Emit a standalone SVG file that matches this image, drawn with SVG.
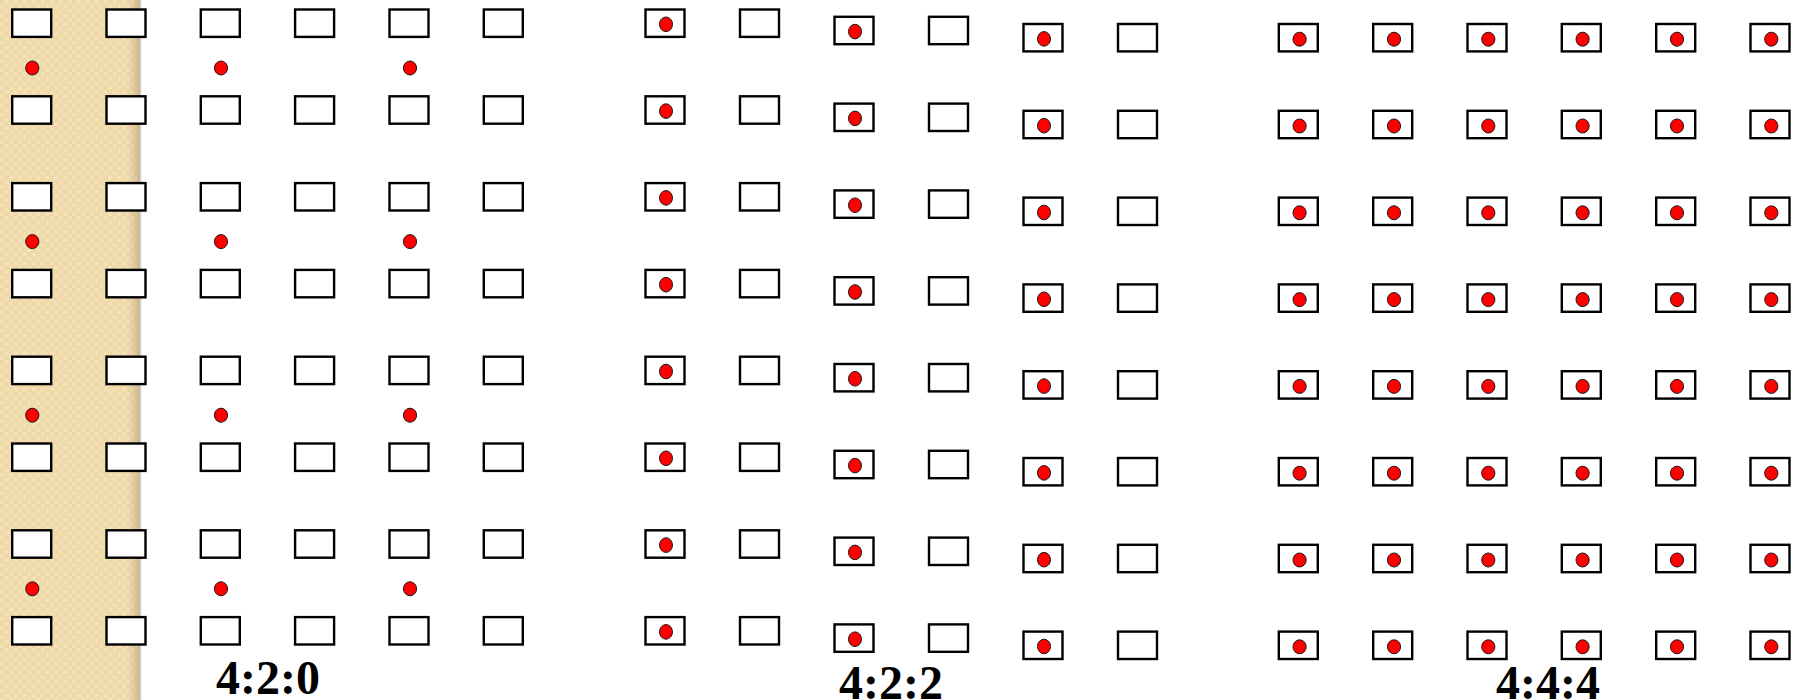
<svg xmlns="http://www.w3.org/2000/svg" xmlns:xlink="http://www.w3.org/1999/xlink" width="1800" height="700" viewBox="0 0 1800 700">
<style>
.box{fill:#ffffff;stroke:#000000;stroke-width:2.4}
.dot{fill:#ff0000;stroke:#1a1a1a;stroke-width:1}
.lbl{font-family:"Liberation Serif","Times New Roman",serif;font-weight:bold;font-size:48px;fill:#000000;text-anchor:middle}
</style>
<defs>
<pattern id="chk" x="0" y="0" width="9" height="9" patternUnits="userSpaceOnUse">
<rect width="9" height="9" fill="#F5E1B3"/>
<rect x="0" y="0" width="4.5" height="4.5" fill="#EBD5A5"/>
<rect x="4.5" y="4.5" width="4.5" height="4.5" fill="#EBD5A5"/>
<rect x="1.2" y="1.2" width="2.1" height="2.1" fill="#F3DFB2"/>
<rect x="5.7" y="5.7" width="2.1" height="2.1" fill="#F3DFB2"/>
</pattern>
<linearGradient id="shade" x1="0" y1="0" x2="1" y2="0">
<stop offset="0" stop-color="#C8B48A" stop-opacity="0"/>
<stop offset="1" stop-color="#B09C72" stop-opacity="0.6"/>
</linearGradient>
<rect id="b" class="box" x="-19.5" y="-13.7" width="39" height="27.4"/>
<ellipse id="d" class="dot" rx="6.6" ry="7"/>
<ellipse id="e" class="dot" rx="6.5" ry="7.3"/>
</defs>
<g id="background">
<rect x="0" y="0" width="1800" height="700" fill="#ffffff"/>
<rect x="0" y="0" width="140" height="700" fill="url(#chk)"/>
<rect x="126" y="0" width="14" height="700" fill="url(#shade)"/>
<rect x="140" y="0" width="1.5" height="700" fill="#DADADA"/>
</g>
<g id="s420">
<g id="s420-col1"><use xlink:href="#b" x="31.7" y="23.2"/><use xlink:href="#b" x="31.7" y="110"/><use xlink:href="#b" x="31.7" y="196.8"/><use xlink:href="#b" x="31.7" y="283.6"/><use xlink:href="#b" x="31.7" y="370.4"/><use xlink:href="#b" x="31.7" y="457.2"/><use xlink:href="#b" x="31.7" y="544"/><use xlink:href="#b" x="31.7" y="630.8"/></g>
<g id="s420-col2"><use xlink:href="#b" x="126" y="23.2"/><use xlink:href="#b" x="126" y="110"/><use xlink:href="#b" x="126" y="196.8"/><use xlink:href="#b" x="126" y="283.6"/><use xlink:href="#b" x="126" y="370.4"/><use xlink:href="#b" x="126" y="457.2"/><use xlink:href="#b" x="126" y="544"/><use xlink:href="#b" x="126" y="630.8"/></g>
<g id="s420-col3"><use xlink:href="#b" x="220.3" y="23.2"/><use xlink:href="#b" x="220.3" y="110"/><use xlink:href="#b" x="220.3" y="196.8"/><use xlink:href="#b" x="220.3" y="283.6"/><use xlink:href="#b" x="220.3" y="370.4"/><use xlink:href="#b" x="220.3" y="457.2"/><use xlink:href="#b" x="220.3" y="544"/><use xlink:href="#b" x="220.3" y="630.8"/></g>
<g id="s420-col4"><use xlink:href="#b" x="314.6" y="23.2"/><use xlink:href="#b" x="314.6" y="110"/><use xlink:href="#b" x="314.6" y="196.8"/><use xlink:href="#b" x="314.6" y="283.6"/><use xlink:href="#b" x="314.6" y="370.4"/><use xlink:href="#b" x="314.6" y="457.2"/><use xlink:href="#b" x="314.6" y="544"/><use xlink:href="#b" x="314.6" y="630.8"/></g>
<g id="s420-col5"><use xlink:href="#b" x="409" y="23.2"/><use xlink:href="#b" x="409" y="110"/><use xlink:href="#b" x="409" y="196.8"/><use xlink:href="#b" x="409" y="283.6"/><use xlink:href="#b" x="409" y="370.4"/><use xlink:href="#b" x="409" y="457.2"/><use xlink:href="#b" x="409" y="544"/><use xlink:href="#b" x="409" y="630.8"/></g>
<g id="s420-col6"><use xlink:href="#b" x="503.3" y="23.2"/><use xlink:href="#b" x="503.3" y="110"/><use xlink:href="#b" x="503.3" y="196.8"/><use xlink:href="#b" x="503.3" y="283.6"/><use xlink:href="#b" x="503.3" y="370.4"/><use xlink:href="#b" x="503.3" y="457.2"/><use xlink:href="#b" x="503.3" y="544"/><use xlink:href="#b" x="503.3" y="630.8"/></g>
<g id="s420-chroma"><use xlink:href="#d" x="32.3" y="68"/><use xlink:href="#d" x="221" y="68"/><use xlink:href="#d" x="410" y="68"/><use xlink:href="#d" x="32.3" y="241.6"/><use xlink:href="#d" x="221" y="241.6"/><use xlink:href="#d" x="410" y="241.6"/><use xlink:href="#d" x="32.3" y="415.2"/><use xlink:href="#d" x="221" y="415.2"/><use xlink:href="#d" x="410" y="415.2"/><use xlink:href="#d" x="32.3" y="588.8"/><use xlink:href="#d" x="221" y="588.8"/><use xlink:href="#d" x="410" y="588.8"/></g>
<text id="lbl420" class="lbl" x="268" y="694">4:2:0</text>
</g>
<g id="s422">
<g id="s422-col1"><use xlink:href="#b" x="665" y="23.2"/><use xlink:href="#b" x="665" y="110"/><use xlink:href="#b" x="665" y="196.8"/><use xlink:href="#b" x="665" y="283.6"/><use xlink:href="#b" x="665" y="370.4"/><use xlink:href="#b" x="665" y="457.2"/><use xlink:href="#b" x="665" y="544"/><use xlink:href="#b" x="665" y="630.8"/>
<use xlink:href="#e" x="666" y="24.3"/><use xlink:href="#e" x="666" y="111.1"/><use xlink:href="#e" x="666" y="197.9"/><use xlink:href="#e" x="666" y="284.7"/><use xlink:href="#e" x="666" y="371.5"/><use xlink:href="#e" x="666" y="458.3"/><use xlink:href="#e" x="666" y="545.1"/><use xlink:href="#e" x="666" y="631.9"/></g>
<g id="s422-col2"><use xlink:href="#b" x="759.5" y="23.2"/><use xlink:href="#b" x="759.5" y="110"/><use xlink:href="#b" x="759.5" y="196.8"/><use xlink:href="#b" x="759.5" y="283.6"/><use xlink:href="#b" x="759.5" y="370.4"/><use xlink:href="#b" x="759.5" y="457.2"/><use xlink:href="#b" x="759.5" y="544"/><use xlink:href="#b" x="759.5" y="630.8"/></g>
<g id="s422-col3"><use xlink:href="#b" x="854" y="30.5"/><use xlink:href="#b" x="854" y="117.3"/><use xlink:href="#b" x="854" y="204.1"/><use xlink:href="#b" x="854" y="290.9"/><use xlink:href="#b" x="854" y="377.7"/><use xlink:href="#b" x="854" y="464.5"/><use xlink:href="#b" x="854" y="551.3"/><use xlink:href="#b" x="854" y="638.1"/>
<use xlink:href="#e" x="855" y="31.6"/><use xlink:href="#e" x="855" y="118.4"/><use xlink:href="#e" x="855" y="205.2"/><use xlink:href="#e" x="855" y="292"/><use xlink:href="#e" x="855" y="378.8"/><use xlink:href="#e" x="855" y="465.6"/><use xlink:href="#e" x="855" y="552.4"/><use xlink:href="#e" x="855" y="639.2"/></g>
<g id="s422-col4"><use xlink:href="#b" x="948.5" y="30.5"/><use xlink:href="#b" x="948.5" y="117.3"/><use xlink:href="#b" x="948.5" y="204.1"/><use xlink:href="#b" x="948.5" y="290.9"/><use xlink:href="#b" x="948.5" y="377.7"/><use xlink:href="#b" x="948.5" y="464.5"/><use xlink:href="#b" x="948.5" y="551.3"/><use xlink:href="#b" x="948.5" y="638.1"/></g>
<g id="s422-col5"><use xlink:href="#b" x="1043" y="37.7"/><use xlink:href="#b" x="1043" y="124.5"/><use xlink:href="#b" x="1043" y="211.3"/><use xlink:href="#b" x="1043" y="298.1"/><use xlink:href="#b" x="1043" y="384.9"/><use xlink:href="#b" x="1043" y="471.7"/><use xlink:href="#b" x="1043" y="558.5"/><use xlink:href="#b" x="1043" y="645.3"/>
<use xlink:href="#e" x="1044" y="38.9"/><use xlink:href="#e" x="1044" y="125.7"/><use xlink:href="#e" x="1044" y="212.5"/><use xlink:href="#e" x="1044" y="299.3"/><use xlink:href="#e" x="1044" y="386.1"/><use xlink:href="#e" x="1044" y="472.9"/><use xlink:href="#e" x="1044" y="559.7"/><use xlink:href="#e" x="1044" y="646.5"/></g>
<g id="s422-col6"><use xlink:href="#b" x="1137.5" y="37.7"/><use xlink:href="#b" x="1137.5" y="124.5"/><use xlink:href="#b" x="1137.5" y="211.3"/><use xlink:href="#b" x="1137.5" y="298.1"/><use xlink:href="#b" x="1137.5" y="384.9"/><use xlink:href="#b" x="1137.5" y="471.7"/><use xlink:href="#b" x="1137.5" y="558.5"/><use xlink:href="#b" x="1137.5" y="645.3"/></g>
<text id="lbl422" class="lbl" x="891" y="699">4:2:2</text>
</g>
<g id="s444">
<g id="s444-col1"><use xlink:href="#b" x="1298.3" y="37.7"/><use xlink:href="#b" x="1298.3" y="124.5"/><use xlink:href="#b" x="1298.3" y="211.3"/><use xlink:href="#b" x="1298.3" y="298.1"/><use xlink:href="#b" x="1298.3" y="384.9"/><use xlink:href="#b" x="1298.3" y="471.7"/><use xlink:href="#b" x="1298.3" y="558.5"/><use xlink:href="#b" x="1298.3" y="645.3"/>
<use xlink:href="#d" x="1299.6" y="39.2"/><use xlink:href="#d" x="1299.6" y="126"/><use xlink:href="#d" x="1299.6" y="212.8"/><use xlink:href="#d" x="1299.6" y="299.6"/><use xlink:href="#d" x="1299.6" y="386.4"/><use xlink:href="#d" x="1299.6" y="473.2"/><use xlink:href="#d" x="1299.6" y="560"/><use xlink:href="#d" x="1299.6" y="646.8"/></g>
<g id="s444-col2"><use xlink:href="#b" x="1392.7" y="37.7"/><use xlink:href="#b" x="1392.7" y="124.5"/><use xlink:href="#b" x="1392.7" y="211.3"/><use xlink:href="#b" x="1392.7" y="298.1"/><use xlink:href="#b" x="1392.7" y="384.9"/><use xlink:href="#b" x="1392.7" y="471.7"/><use xlink:href="#b" x="1392.7" y="558.5"/><use xlink:href="#b" x="1392.7" y="645.3"/>
<use xlink:href="#d" x="1394" y="39.2"/><use xlink:href="#d" x="1394" y="126"/><use xlink:href="#d" x="1394" y="212.8"/><use xlink:href="#d" x="1394" y="299.6"/><use xlink:href="#d" x="1394" y="386.4"/><use xlink:href="#d" x="1394" y="473.2"/><use xlink:href="#d" x="1394" y="560"/><use xlink:href="#d" x="1394" y="646.8"/></g>
<g id="s444-col3"><use xlink:href="#b" x="1487" y="37.7"/><use xlink:href="#b" x="1487" y="124.5"/><use xlink:href="#b" x="1487" y="211.3"/><use xlink:href="#b" x="1487" y="298.1"/><use xlink:href="#b" x="1487" y="384.9"/><use xlink:href="#b" x="1487" y="471.7"/><use xlink:href="#b" x="1487" y="558.5"/><use xlink:href="#b" x="1487" y="645.3"/>
<use xlink:href="#d" x="1488.3" y="39.2"/><use xlink:href="#d" x="1488.3" y="126"/><use xlink:href="#d" x="1488.3" y="212.8"/><use xlink:href="#d" x="1488.3" y="299.6"/><use xlink:href="#d" x="1488.3" y="386.4"/><use xlink:href="#d" x="1488.3" y="473.2"/><use xlink:href="#d" x="1488.3" y="560"/><use xlink:href="#d" x="1488.3" y="646.8"/></g>
<g id="s444-col4"><use xlink:href="#b" x="1581.3" y="37.7"/><use xlink:href="#b" x="1581.3" y="124.5"/><use xlink:href="#b" x="1581.3" y="211.3"/><use xlink:href="#b" x="1581.3" y="298.1"/><use xlink:href="#b" x="1581.3" y="384.9"/><use xlink:href="#b" x="1581.3" y="471.7"/><use xlink:href="#b" x="1581.3" y="558.5"/><use xlink:href="#b" x="1581.3" y="645.3"/>
<use xlink:href="#d" x="1582.6" y="39.2"/><use xlink:href="#d" x="1582.6" y="126"/><use xlink:href="#d" x="1582.6" y="212.8"/><use xlink:href="#d" x="1582.6" y="299.6"/><use xlink:href="#d" x="1582.6" y="386.4"/><use xlink:href="#d" x="1582.6" y="473.2"/><use xlink:href="#d" x="1582.6" y="560"/><use xlink:href="#d" x="1582.6" y="646.8"/></g>
<g id="s444-col5"><use xlink:href="#b" x="1675.7" y="37.7"/><use xlink:href="#b" x="1675.7" y="124.5"/><use xlink:href="#b" x="1675.7" y="211.3"/><use xlink:href="#b" x="1675.7" y="298.1"/><use xlink:href="#b" x="1675.7" y="384.9"/><use xlink:href="#b" x="1675.7" y="471.7"/><use xlink:href="#b" x="1675.7" y="558.5"/><use xlink:href="#b" x="1675.7" y="645.3"/>
<use xlink:href="#d" x="1677" y="39.2"/><use xlink:href="#d" x="1677" y="126"/><use xlink:href="#d" x="1677" y="212.8"/><use xlink:href="#d" x="1677" y="299.6"/><use xlink:href="#d" x="1677" y="386.4"/><use xlink:href="#d" x="1677" y="473.2"/><use xlink:href="#d" x="1677" y="560"/><use xlink:href="#d" x="1677" y="646.8"/></g>
<g id="s444-col6"><use xlink:href="#b" x="1770" y="37.7"/><use xlink:href="#b" x="1770" y="124.5"/><use xlink:href="#b" x="1770" y="211.3"/><use xlink:href="#b" x="1770" y="298.1"/><use xlink:href="#b" x="1770" y="384.9"/><use xlink:href="#b" x="1770" y="471.7"/><use xlink:href="#b" x="1770" y="558.5"/><use xlink:href="#b" x="1770" y="645.3"/>
<use xlink:href="#d" x="1771.3" y="39.2"/><use xlink:href="#d" x="1771.3" y="126"/><use xlink:href="#d" x="1771.3" y="212.8"/><use xlink:href="#d" x="1771.3" y="299.6"/><use xlink:href="#d" x="1771.3" y="386.4"/><use xlink:href="#d" x="1771.3" y="473.2"/><use xlink:href="#d" x="1771.3" y="560"/><use xlink:href="#d" x="1771.3" y="646.8"/></g>
<text id="lbl444" class="lbl" x="1548" y="699">4:4:4</text>
</g>
<g id="connectors"/>
</svg>
